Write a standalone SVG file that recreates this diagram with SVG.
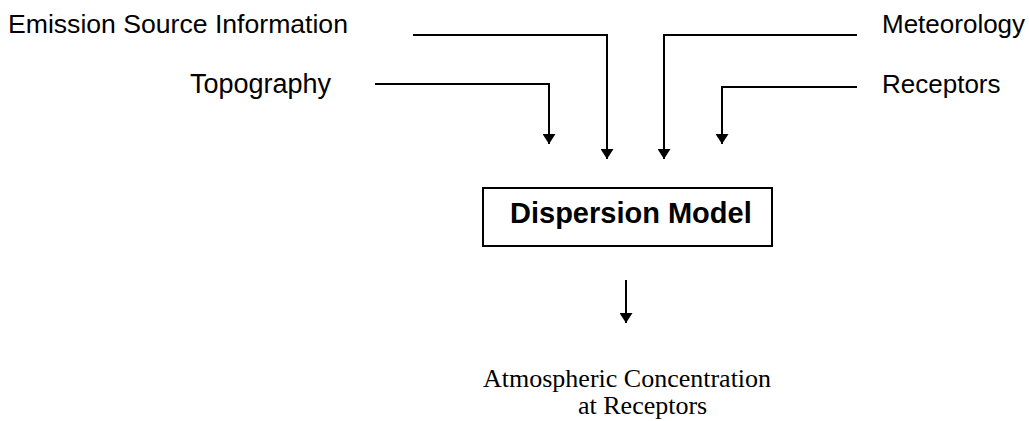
<svg xmlns="http://www.w3.org/2000/svg" width="1029" height="421" viewBox="0 0 1029 421">
<style>
.lbl{font-family:"Liberation Sans",Arial,sans-serif;font-size:26px;fill:#000}
.title{font-family:"Liberation Sans",Arial,sans-serif;font-size:29px;font-weight:bold;fill:#000}
.out{font-family:"Liberation Serif","Times New Roman",serif;font-size:26px;fill:#000}
.conn{fill:none;stroke:#000;stroke-width:2}
</style>
<defs>
<marker id="ah" markerWidth="10" markerHeight="13" refX="10" refY="6.5" orient="auto" markerUnits="userSpaceOnUse" viewBox="0 0 10 13">
<path d="M0,0 L10,6.5 L0,13 Z" fill="#000"/>
</marker>
</defs>
<rect width="1029" height="421" fill="#fff"/>
<g id="emission"><text class="lbl" x="8" y="33" style="font-size:26.6px">Emission Source Information</text></g>
<g id="topography"><text class="lbl" x="190" y="93" style="font-size:27px">Topography</text></g>
<g id="meteorology"><text class="lbl" x="882" y="33">Meteorology</text></g>
<g id="receptors"><text class="lbl" x="882" y="93">Receptors</text></g>
<g id="model">
<rect x="483" y="188" width="289" height="58" fill="#fff" stroke="#000" stroke-width="2"/>
<text class="title" x="510" y="223">Dispersion Model</text>
</g>
<g id="output">
<text class="out" x="483" y="387">Atmospheric Concentration</text>
<text class="out" x="578" y="414">at Receptors</text>
</g>
<g id="connectors">
<path class="conn" d="M413,35 H607 V159" marker-end="url(#ah)"/>
<path class="conn" d="M375,84 H549 V144" marker-end="url(#ah)"/>
<path class="conn" d="M857,35 H664 V159" marker-end="url(#ah)"/>
<path class="conn" d="M857,87 H722 V144" marker-end="url(#ah)"/>
<path class="conn" d="M626,280 V323" marker-end="url(#ah)"/>
</g>
</svg>
